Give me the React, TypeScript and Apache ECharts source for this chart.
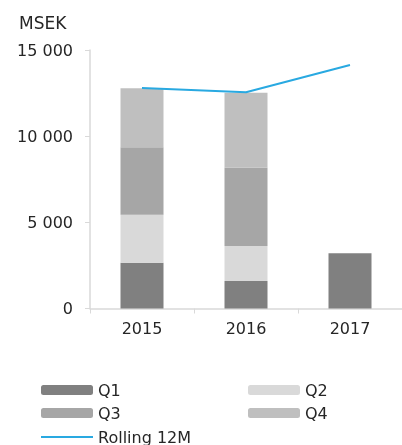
import React, { useEffect, useRef } from "react";
import * as echarts from "echarts";

const categories = ["2015", "2016", "2017"];
const q1 = [2660, 1600, 3200];
const q2 = [2780, 2030, null];
const q3 = [3920, 4540, null];
const q4 = [3420, 4350, null];
const rolling12M = [12800, 12550, 14130];
const yTicks = [0, 5000, 10000, 15000];

const FONT = "DejaVu Sans";
const TEXT = "#262626";

export default function App() {
  const ref = useRef<HTMLDivElement>(null);
  useEffect(() => {
    if (!ref.current) return;
    const chart = echarts.init(ref.current, null, { renderer: "svg" });
    const fmt = (v: number) => String(v).replace(/\B(?=(\d{3})+(?!\d))/g, " ");
    const bar = (name: string, data: (number | null)[], color: string) => ({
      name,
      type: "bar",
      stack: "q",
      barWidth: 43,
      data,
      itemStyle: { color },
    });
    const leg = (name: string, left: number, cy: number, h = 10) => ({
      left,
      top: cy - 9,
      padding: 0,
      itemWidth: 52,
      itemHeight: h,
      itemGap: 0,
      textStyle: { color: TEXT, fontSize: 16, fontFamily: FONT, lineHeight: 18 },
      data: [h < 5 ? { name, icon: "rect" } : name],
    });
    chart.setOption({
      animation: false,
      textStyle: { fontFamily: FONT },
      grid: { left: 90, right: -8, top: 50, bottom: 136.5 },
      xAxis: {
        type: "category",
        data: categories,
        axisLine: { lineStyle: { color: "#d9d9d9", width: 1.5 } },
        axisTick: { show: true, length: 5, lineStyle: { color: "#d9d9d9" } },
        axisLabel: { color: TEXT, fontSize: 16, fontFamily: FONT, margin: 12 },
      },
      yAxis: {
        type: "value",
        min: yTicks[0],
        max: yTicks[yTicks.length - 1],
        interval: 5000,
        splitLine: { show: false },
        axisLine: { show: true, lineStyle: { color: "#d9d9d9", width: 1.5 } },
        axisTick: { show: true, length: 5, lineStyle: { color: "#d9d9d9" } },
        axisLabel: { color: TEXT, fontSize: 16, fontFamily: FONT, margin: 17, formatter: fmt },
      },
      graphic: [
        {
          type: "text",
          left: 19,
          top: 14,
          style: { text: "MSEK", fill: TEXT, fontSize: 17, fontFamily: FONT },
        },
      ],
      legend: [
        leg("Q1", 41, 390),
        leg("Q2", 248, 390),
        leg("Q3", 41, 413),
        leg("Q4", 248, 413),
        leg("Rolling 12M", 41, 437, 2),
      ],
      series: [
        bar("Q1", q1, "#808080"),
        bar("Q2", q2, "#d9d9d9"),
        bar("Q3", q3, "#a6a6a6"),
        bar("Q4", q4, "#bfbfbf"),
        {
          name: "Rolling 12M",
          type: "line",
          data: rolling12M,
          symbol: "none",
          lineStyle: { color: "#29a9e1", width: 2 },
          itemStyle: { color: "#29a9e1" },
        },
      ],
    });
    return () => chart.dispose();
  }, []);
  return (
    <div
      ref={ref}
      style={{ position: "fixed", left: 0, top: 0, width: 402, height: 445 }}
    />
  );
}
